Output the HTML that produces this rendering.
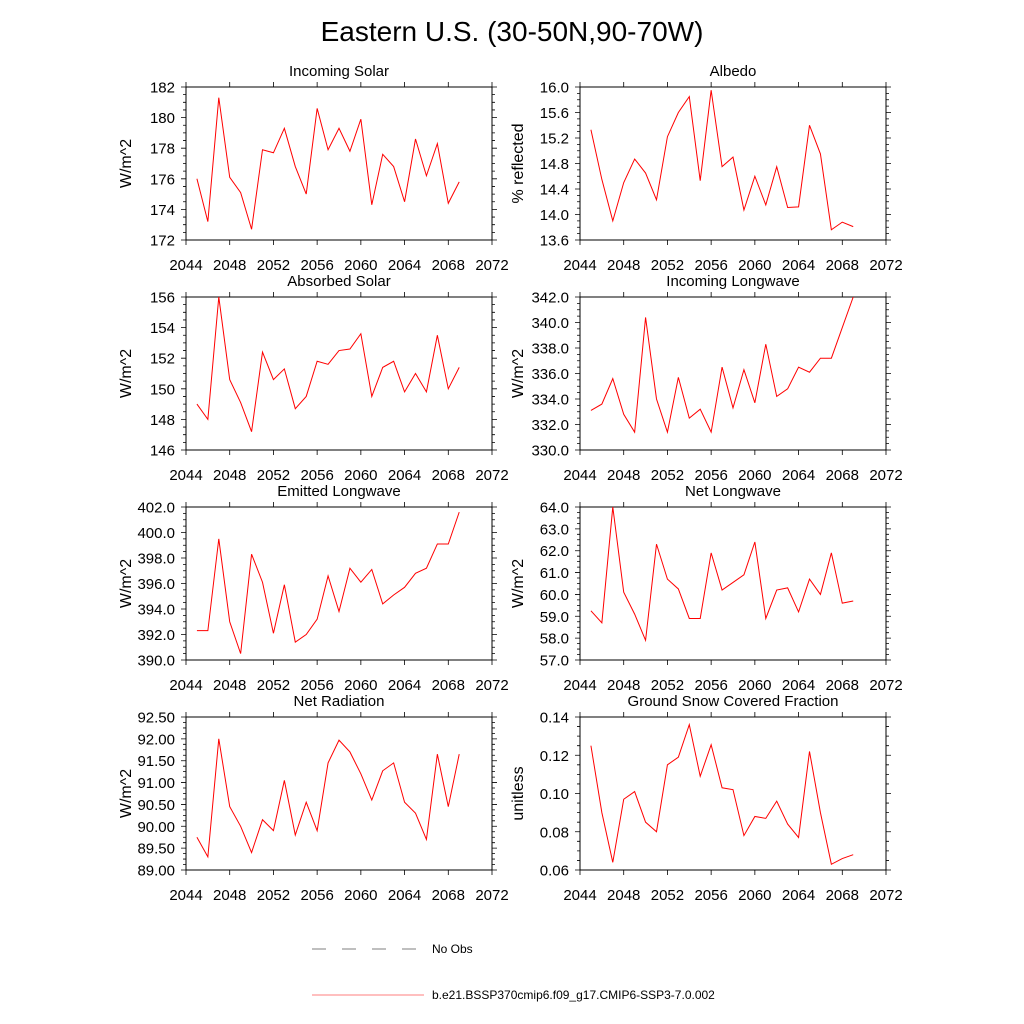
<!DOCTYPE html>
<html><head><meta charset="utf-8"><style>
body{margin:0;background:#fff;}
svg{display:block;font-family:"Liberation Sans",sans-serif;}
</style></head><body>
<svg id="fig" width="1024" height="1024" viewBox="0 0 1024 1024">
<text x="512" y="41" text-anchor="middle" font-size="28">Eastern U.S. (30-50N,90-70W)</text>
<g id="panels"></g>
<g>
<line x1="312" y1="949" x2="424" y2="949" stroke="#000" stroke-width="0.6" stroke-dasharray="14,16"/>
<text x="432" y="953" font-size="12">No Obs</text>
<line x1="312" y1="995" x2="424" y2="995" stroke="red" stroke-width="0.6"/>
<text x="432" y="999" font-size="12">b.e21.BSSP370cmip6.f09_g17.CMIP6-SSP3-7.0.002</text>
</g>
</svg>
<script>
const years=[2045,2046,2047,2048,2049,2050,2051,2052,2053,2054,2055,2056,2057,2058,2059,2060,2061,2062,2063,2064,2065,2066,2067,2068,2069];
const xTicks=[2044,2048,2052,2056,2060,2064,2068,2072];
const titles=["Incoming Solar","Albedo","Absorbed Solar","Incoming Longwave","Emitted Longwave","Net Longwave","Net Radiation","Ground Snow Covered Fraction"];
const yLabels=["W/m^2","% reflected","W/m^2","W/m^2","W/m^2","W/m^2","W/m^2","unitless"];
const incomingSolar=[176.0,173.2,181.3,176.1,175.1,172.7,177.9,177.7,179.3,176.8,175.0,180.6,177.9,179.3,177.8,179.9,174.3,177.6,176.8,174.5,178.6,176.2,178.3,174.4,175.8];
const albedo=[15.33,14.55,13.9,14.5,14.87,14.65,14.23,15.22,15.6,15.85,14.53,15.95,14.75,14.9,14.07,14.6,14.15,14.75,14.11,14.12,15.4,14.95,13.76,13.88,13.81];
const absorbedSolar=[149.0,148.0,156.0,150.6,149.1,147.2,152.4,150.6,151.3,148.7,149.5,151.8,151.6,152.5,152.6,153.6,149.5,151.4,151.8,149.8,151.0,149.8,153.5,150.0,151.4];
const incomingLW=[333.1,333.6,335.6,332.8,331.4,340.4,334.0,331.4,335.7,332.5,333.2,331.4,336.5,333.3,336.3,333.7,338.3,334.2,334.8,336.5,336.1,337.2,337.2,339.6,342.0];
const emittedLW=[392.3,392.3,399.5,393.0,390.5,398.3,396.1,392.1,395.9,391.4,392.0,393.2,396.6,393.8,397.2,396.1,397.1,394.4,395.1,395.7,396.8,397.2,399.1,399.1,401.6];
const netLW=[59.25,58.7,64.0,60.1,59.1,57.9,62.3,60.7,60.25,58.9,58.9,61.9,60.2,60.55,60.9,62.4,58.9,60.2,60.3,59.2,60.7,60.0,61.9,59.6,59.7];
const netRad=[89.75,89.3,92.0,90.45,90.0,89.4,90.15,89.9,91.05,89.8,90.55,89.9,91.45,91.97,91.7,91.2,90.6,91.27,91.45,90.55,90.3,89.7,91.65,90.45,91.65];
const snowFrac=[0.125,0.09,0.064,0.097,0.101,0.085,0.080,0.115,0.119,0.136,0.109,0.1255,0.103,0.102,0.078,0.088,0.087,0.096,0.084,0.077,0.122,0.090,0.063,0.066,0.068];
const yTicks0=[172,174,176,178,180,182];
const yTicks1=[13.6,14.0,14.4,14.8,15.2,15.6,16.0];
const yTicks2=[146,148,150,152,154,156];
const yTicks3=[330,332,334,336,338,340,342];
const yTicks4=[390,392,394,396,398,400,402];
const yTicks5=[57,58,59,60,61,62,63,64];
const yTicks6=[89,89.5,90,90.5,91,91.5,92,92.5];
const yTicks7=[0.06,0.08,0.10,0.12,0.14];
const series=[incomingSolar,albedo,absorbedSolar,incomingLW,emittedLW,netLW,netRad,snowFrac];
const ticks=[yTicks0,yTicks1,yTicks2,yTicks3,yTicks4,yTicks5,yTicks6,yTicks7];
const decs=[0,1,0,1,1,1,2,2];
const NS="http://www.w3.org/2000/svg";
const root=document.getElementById('panels');
function mk(t,a,p){const e=document.createElementNS(NS,t);for(const k in a)e.setAttribute(k,a[k]);(p||root).appendChild(e);return e;}
for(let i=0;i<8;i++){
  const col=i%2,row=Math.floor(i/2);
  const L=col?580:186,R=col?886:492,T=87+row*210,B=T+153;
  const tk=ticks[i],y0=tk[0],y1=tk[tk.length-1];
  const xs=v=>L+(v-2044)/(2072-2044)*(R-L);
  const ys=v=>B-(v-y0)/(y1-y0)*(B-T);
  const g=mk('g',{});
  
  
  const tt=mk('text',{x:(L+R)/2,y:T-11,'text-anchor':'middle','font-size':15},g);tt.textContent=titles[i];
  
  
  const yl=mk('text',{x:0,y:0,'text-anchor':'middle','font-size':16,transform:`translate(${col?523:131},${(T+B)/2}) rotate(-90)`},g);yl.textContent=yLabels[i];
  
  
  let d='';
  xTicks.forEach(v=>{const x=xs(v);d+=`M${x},${B}v5M${x},${T}v-5`;
    const t=mk('text',{x:x,y:B+30,'text-anchor':'middle','font-size':15},g);t.textContent=v;
    
    });
  const step=tk[1]-tk[0];
  for(let k=0;k<tk.length;k++){const y=ys(tk[k]);d+=`M${L},${y}h-5M${R},${y}h5`;
    const t=mk('text',{x:L-11,y:y+5.5,'text-anchor':'end','font-size':15},g);t.textContent=tk[k].toFixed(decs[i]);
    
    
    if(k<tk.length-1)for(let m=1;m<4;m++){const ym=ys(tk[k]+step*m/4);d+=`M${L},${ym}h-3M${R},${ym}h3`;}}
  mk('path',{d:d,stroke:'#000','stroke-width':0.8,fill:'none'},g);
  const box=mk('rect',{x:L,y:T,width:R-L,height:B-T,fill:'none',stroke:'#000','stroke-width':1},g);
  
  
  const pl=mk('polyline',{points:series[i].map((v,j)=>xs(years[j])+','+ys(v)).join(' '),fill:'none',stroke:'red','stroke-width':1},g);
  
  
}
</script>
</body></html>
